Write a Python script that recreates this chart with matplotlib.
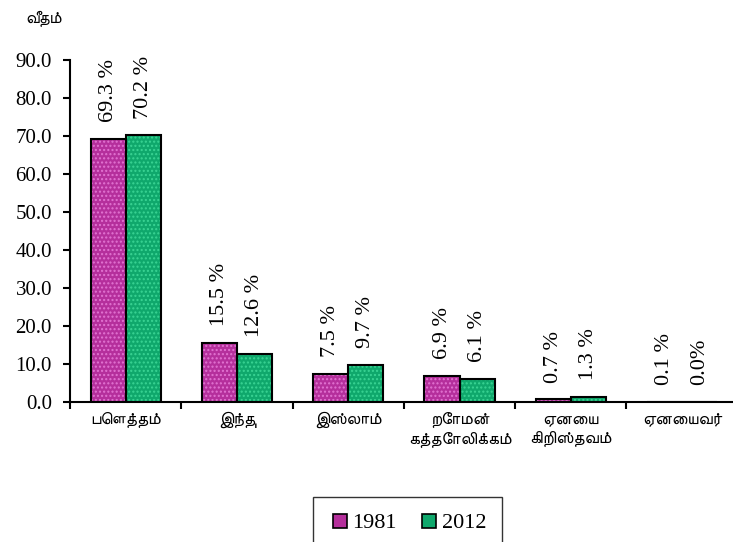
import matplotlib
matplotlib.use('Agg')
import matplotlib.pyplot as plt
from matplotlib import font_manager
from matplotlib.ft2font import FT2Font
from matplotlib.lines import Line2D

categories = ['பௌத்தம்', 'இந்து', 'இஸ்லாம்', 'றோமன்\nகத்தோலிக்கம்', 'ஏனைய\nகிறிஸ்தவம்', 'ஏனையவர்']
vals_1981 = [69.3, 15.5, 7.5, 6.9, 0.7, 0.1]
vals_2012 = [70.2, 12.6, 9.7, 6.1, 1.3, 0.0]
labels_1981 = ['69.3 %', '15.5 %', '7.5 %', '6.9 %', '0.7 %', '0.1 %']
labels_2012 = ['70.2 %', '12.6 %', '9.7 %', '6.1 %', '1.3 %', '0.0%']
yticks = [0, 10, 20, 30, 40, 50, 60, 70, 80, 90]
series_names = ['1981', '2012']


def find_tamil_fonts():
    found = []
    for f in font_manager.fontManager.ttflist:
        try:
            cmap = FT2Font(f.fname).get_charmap()
        except Exception:
            continue
        if 0x0BA4 in cmap and f.name not in found:
            found.append(f.name)
    # prefer a plain sans face if there is one
    found.sort(key=lambda n: 0 if n == 'FreeSans' else (1 if 'Tamil' in n else 2))
    return found


tamil_family = find_tamil_fonts() + ['DejaVu Sans']
serif = ['Liberation Serif', 'DejaVu Serif']

fig = plt.figure(figsize=(7.33, 5.42), dpi=100)
ax = fig.add_axes([0.0955, 0.2583, 0.9045, 0.6310])

w = 0.315
x = range(len(categories))
x1 = [i - w / 2 for i in x]
x2 = [i + w / 2 for i in x]

plt.rcParams['hatch.linewidth'] = 1.0
ax.bar(x1, vals_1981, w, color='#b52f9c', edgecolor='#e274d2', hatch='....', lw=0)
ax.bar(x2, vals_2012, w, color='#0fa86c', edgecolor='#3ad494', hatch='....', lw=0)
ax.bar(x1, vals_1981, w, fill=False, edgecolor='black', lw=1.5)
ax.bar(x2, vals_2012, w, fill=False, edgecolor='black', lw=1.5)

for xi, v, t in zip(x1, vals_1981, labels_1981):
    ax.annotate(t, (xi, v), xytext=(0, 12), textcoords='offset points', rotation=90,
                ha='center', va='bottom', family=serif, fontsize=16)
for xi, v, t in zip(x2, vals_2012, labels_2012):
    ax.annotate(t, (xi, v), xytext=(0, 12), textcoords='offset points', rotation=90,
                ha='center', va='bottom', family=serif, fontsize=16)

ax.set_ylim(0, 90)
ax.set_xlim(-0.5, 5.457)
ax.set_yticks(yticks)
ax.set_yticklabels(['{:.1f}'.format(v) for v in yticks], family=serif, fontsize=15)
ax.set_xticks(list(x))
ax.set_xticklabels(categories, family=tamil_family, fontsize=12.5, linespacing=1.3)
ax.set_xticks([i - 0.5 for i in range(len(categories))], minor=True)
ax.tick_params(axis='x', which='major', length=0, pad=7)
ax.tick_params(axis='x', which='minor', length=5, width=1.5, direction='out')
ax.tick_params(axis='y', length=5, width=1.5, direction='out', pad=8)

for s in ['top', 'right']:
    ax.spines[s].set_visible(False)
ax.spines['left'].set_linewidth(1.5)
ax.spines['bottom'].set_linewidth(1.5)

fig.text(0.034, 0.965, 'வீதம்', family=tamil_family, fontsize=12, ha='left', va='center')

handles = [Line2D([], [], ls='', marker='s', markersize=9.4, markerfacecolor='#b52f9c',
                  markeredgecolor='black', markeredgewidth=1.2),
           Line2D([], [], ls='', marker='s', markersize=9.4, markerfacecolor='#0fa86c',
                  markeredgecolor='black', markeredgewidth=1.2)]
fig.legend(handles, series_names, loc='center', bbox_to_anchor=(0.556, 0.035), ncol=2,
           prop={'family': serif, 'size': 16}, frameon=True, fancybox=False,
           edgecolor='black', handlelength=1.0, handletextpad=0.05,
           columnspacing=0.97, borderpad=0.7)

plt.savefig('out.png', dpi=100)
